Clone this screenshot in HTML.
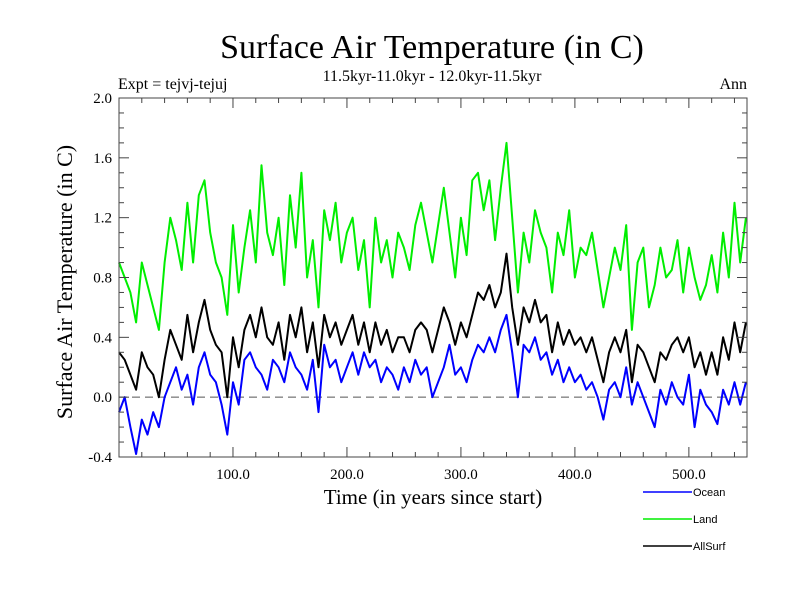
<!DOCTYPE html>
<html><head><meta charset="utf-8"><style>
body{margin:0;background:#fff;}
svg{display:block;font-family:"Liberation Serif",serif;}
</style></head><body>
<svg id="chart" width="800" height="600" viewBox="0 0 800 600">
<rect width="800" height="600" fill="#fff"/>
<text x="432" y="58" font-size="34" text-anchor="middle">Surface Air Temperature (in C)</text>
<text x="432" y="81" font-size="16" text-anchor="middle">11.5kyr-11.0kyr - 12.0kyr-11.5kyr</text>
<text x="118" y="89" font-size="16">Expt = tejvj-tejuj</text>
<text x="747" y="89" font-size="16" text-anchor="end">Ann</text>
<text x="433" y="504" font-size="21" text-anchor="middle">Time (in years since start)</text>
<text transform="translate(72,282) rotate(-90)" font-size="22" text-anchor="middle">Surface Air Temperature (in C)</text>
<g id="plot"></g>
<g id="legend">
<line x1="643" y1="492" x2="692" y2="492" stroke="#0000ff" stroke-width="1.5"/>
<text x="693" y="496" font-size="11" font-family="Liberation Sans,sans-serif">Ocean</text>
<line x1="643" y1="519" x2="692" y2="519" stroke="#00ee00" stroke-width="1.5"/>
<text x="693" y="523" font-size="11" font-family="Liberation Sans,sans-serif">Land</text>
<line x1="643" y1="546" x2="692" y2="546" stroke="#000" stroke-width="1.5"/>
<text x="693" y="550" font-size="11" font-family="Liberation Sans,sans-serif">AllSurf</text>
</g>
</svg>
<script>
const years = [0,5,10,15,20,25,30,35,40,45,50,55,60,65,70,75,80,85,90,95,100,105,110,115,120,125,130,135,140,145,150,155,160,165,170,175,180,185,190,195,200,205,210,215,220,225,230,235,240,245,250,255,260,265,270,275,280,285,290,295,300,305,310,315,320,325,330,335,340,345,350,355,360,365,370,375,380,385,390,395,400,405,410,415,420,425,430,435,440,445,450,455,460,465,470,475,480,485,490,495,500,505,510,515,520,525,530,535,540,545,550];
const ocean = [-0.1,0.0,-0.2,-0.38,-0.15,-0.25,-0.1,-0.2,0.0,0.1,0.2,0.05,0.15,-0.05,0.2,0.3,0.15,0.1,-0.05,-0.25,0.1,-0.05,0.25,0.3,0.2,0.15,0.05,0.25,0.2,0.1,0.3,0.2,0.15,0.05,0.25,-0.1,0.35,0.2,0.25,0.1,0.2,0.3,0.15,0.3,0.2,0.25,0.1,0.2,0.15,0.05,0.2,0.1,0.25,0.15,0.2,0.0,0.1,0.2,0.35,0.15,0.2,0.1,0.25,0.35,0.3,0.4,0.3,0.45,0.55,0.3,0.0,0.35,0.3,0.4,0.25,0.3,0.15,0.25,0.1,0.2,0.1,0.15,0.05,0.1,0.0,-0.15,0.05,0.1,0.0,0.2,-0.05,0.1,0.0,-0.1,-0.2,0.05,-0.05,0.1,0.0,-0.05,0.15,-0.2,0.05,-0.05,-0.1,-0.18,0.05,-0.05,0.1,-0.05,0.1];
const land = [0.9,0.8,0.7,0.5,0.9,0.75,0.6,0.45,0.9,1.2,1.05,0.85,1.3,0.9,1.35,1.45,1.1,0.9,0.8,0.55,1.15,0.7,1.0,1.25,0.9,1.55,1.1,0.95,1.2,0.75,1.35,1.0,1.5,0.8,1.05,0.6,1.25,1.05,1.3,0.9,1.1,1.2,0.85,1.05,0.6,1.2,0.9,1.05,0.8,1.1,1.0,0.85,1.15,1.3,1.1,0.9,1.15,1.4,1.1,0.8,1.2,0.95,1.45,1.5,1.25,1.45,1.05,1.4,1.7,1.2,0.7,1.1,0.9,1.25,1.1,1.0,0.7,1.1,0.95,1.25,0.8,1.0,0.95,1.1,0.85,0.6,0.8,1.0,0.85,1.15,0.45,0.9,1.0,0.6,0.75,1.0,0.8,0.85,1.05,0.7,1.0,0.8,0.65,0.75,0.95,0.7,1.1,0.8,1.3,0.9,1.2];
const allsurf = [0.3,0.25,0.15,0.05,0.3,0.2,0.15,0.0,0.25,0.45,0.35,0.25,0.55,0.3,0.5,0.65,0.45,0.35,0.3,0.0,0.4,0.2,0.45,0.55,0.4,0.6,0.4,0.35,0.5,0.25,0.55,0.4,0.6,0.3,0.5,0.2,0.55,0.4,0.5,0.35,0.45,0.55,0.35,0.5,0.3,0.5,0.35,0.45,0.3,0.4,0.4,0.3,0.45,0.5,0.45,0.3,0.45,0.6,0.5,0.35,0.5,0.4,0.55,0.7,0.65,0.75,0.6,0.7,0.96,0.6,0.35,0.6,0.5,0.65,0.5,0.55,0.3,0.5,0.35,0.45,0.35,0.4,0.3,0.4,0.25,0.1,0.3,0.4,0.3,0.45,0.1,0.35,0.3,0.2,0.1,0.3,0.25,0.35,0.4,0.3,0.4,0.2,0.3,0.15,0.3,0.15,0.4,0.25,0.5,0.3,0.5];
const xTicks = [100,200,300,400,500];
const xTickLabels = ["100.0","200.0","300.0","400.0","500.0"];
const yTicks = [-0.4,0.0,0.4,0.8,1.2,1.6,2.0];
const yTickLabels = ["-0.4","0.0","0.4","0.8","1.2","1.6","2.0"];

const L=119,R=747,T=98,B=457,X0=0,X1=551,Y0=-0.4,Y1=2.0;
const sx=t=>L+(t-X0)/(X1-X0)*(R-L);
const sy=v=>B-(v-Y0)/(Y1-Y0)*(B-T);
const NS="http://www.w3.org/2000/svg";
const g=document.getElementById('plot');
function mk(tag,attrs){const e=document.createElementNS(NS,tag);for(const k in attrs)e.setAttribute(k,attrs[k]);g.appendChild(e);return e;}

const zl=mk('line',{x1:L,x2:R,y1:sy(0),y2:sy(0),stroke:'#555','stroke-width':1,'stroke-dasharray':'8,5'});



function series(arr,color,name){
  const d=arr.map((v,i)=>(i?'L':'M')+sx(years[i]).toFixed(1)+','+sy(v).toFixed(1)).join(' ');
  const p=mk('path',{d:d,fill:'none',stroke:color,'stroke-width':2,'stroke-linejoin':'round'});
  
  
}
series(land,'#00ee00','land-line');
series(allsurf,'#000','allsurf-line');
series(ocean,'#0000ff','ocean-line');

const fr=mk('rect',{x:L,y:T,width:R-L,height:B-T,fill:'none',stroke:'#444','stroke-width':1});



for(let t=20;t<X1;t+=20){
  const major=t%100===0, len=major?10:5, x=sx(t);
  const a=mk('line',{x1:x,x2:x,y1:B,y2:B-len,stroke:'#444'});
  
  
  const b=mk('line',{x1:x,x2:x,y1:T,y2:T+len,stroke:'#444'});
  
  
}
for(let k=-3;k<20;k++){
  const v=k/10, major=Math.abs(v*10)%4===0, len=major?10:5, y=sy(v);
  const a=mk('line',{x1:L,x2:L+len,y1:y,y2:y,stroke:'#444'});
  
  
  const b=mk('line',{x1:R,x2:R-len,y1:y,y2:y,stroke:'#444'});
  
  
}
xTicks.forEach((t,i)=>{
  const e=mk('text',{x:sx(t),y:479,'font-size':15,'text-anchor':'middle'});
  e.textContent=xTickLabels[i];
  
  
});
yTicks.forEach((v,i)=>{
  const e=mk('text',{x:112,y:sy(v)+5,'font-size':15,'text-anchor':'end'});
  e.textContent=yTickLabels[i];
  
  
});
</script>
</body></html>
